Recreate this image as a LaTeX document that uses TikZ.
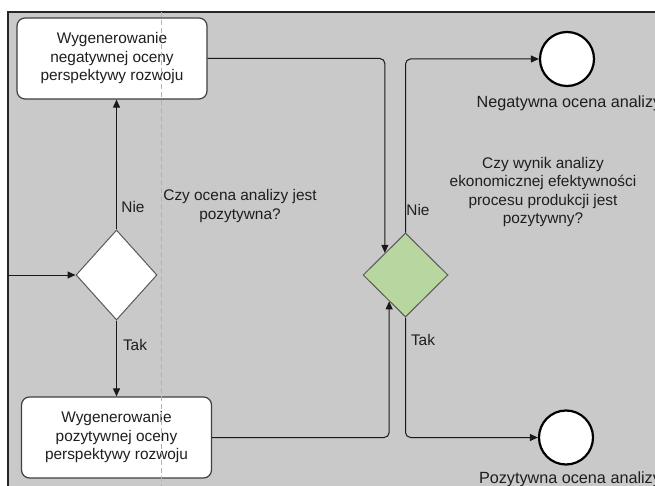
\documentclass[tikz,border=0pt]{standalone}
\usepackage{fontspec}
\setmainfont{Liberation Sans}
\usetikzlibrary{shapes.geometric,arrows.meta,calc}
\definecolor{bggray}{HTML}{C9C9C9}
\definecolor{gatgreen}{HTML}{B8D6A0}
\definecolor{txt}{HTML}{1E1E1E}
\tikzset{
  task/.style={rectangle, rounded corners=8pt, draw=black!75, line width=1.2pt, fill=white,
    minimum width=190pt, minimum height=81pt, align=center, inner sep=0pt, text=txt},
  gate/.style={diamond, draw=black!65, line width=1pt, inner sep=0pt},
  endev/.style={circle, draw=black, line width=2.2pt, fill=white, minimum size=54pt, inner sep=0pt},
  flow/.style={draw=black!90, line width=1pt, rounded corners=5pt, -{Triangle[length=8pt,width=7pt]}},
  lbl/.style={text=txt, align=center, inner sep=0pt},
}
\begin{document}
\begin{tikzpicture}[x=1pt,y=-1pt,font=\fontsize{15.4}{18.5}\selectfont]
\useasboundingbox (0,0) rectangle (655,486);
\fill[white] (0,0) rectangle (655,486);
\fill[bggray] (8,12) rectangle (660,490);
\draw[black!85, line width=1.5pt] (8,490) -- (8,12) -- (660,12);

\node[task] (topbox) at (112,58.5) {Wygenerowanie\\negatywnej oceny\\perspektywy rozwoju};
\node[task] (botbox) at (116.5,437.5) {Wygenerowanie\\pozytywnej oceny\\perspektywy rozwoju};
\node[gate, fill=white, minimum width=81pt, minimum height=90pt] (d1) at (116.5,275) {};
\node[gate, fill=gatgreen, minimum width=85pt, minimum height=84pt] (d2) at (405.5,275) {};
\node[endev] (c1) at (567,59) {};
\node[endev] (c2) at (566,437.5) {};

\coordinate (in) at (8,275);
\draw[flow] (in) -- (d1.west);
\draw[flow] (d1.north) -- (d1.north |- topbox.south);
\draw[flow] (d1.south) -- (d1.south |- botbox.north);
\draw[flow] (topbox.east) -| ($(d2.west)!0.52!(d2.north)$);
\draw[flow] (botbox.east) -| ($(d2.west)!0.62!(d2.south)$);
\draw[flow] (d2.north) |- (c1.west);
\draw[flow] (d2.south) |- (c2.west);

\node[lbl] (nie1) at (133,207) {Nie};
\node[lbl] (tak1) at (135,345) {Tak};
\node[lbl] (nie2) at (418,210) {Nie};
\node[lbl] (tak2) at (423,340) {Tak};
\node[lbl] (q1) at (240,206) {Czy ocena analizy jest\\pozytywna?};
\node[lbl] (q2) at (543,192) {Czy wynik analizy\\ekonomicznej efektywności\\procesu produkcji jest\\pozytywny?};
\node[lbl, font=\fontsize{16.2}{19}\selectfont] (l1) at (569,103) {Negatywna ocena analizy};
\node[lbl, font=\fontsize{16.2}{19}\selectfont] (l2) at (570,479) {Pozytywna ocena analizy};

\draw[black!30, line width=0.8pt, dash pattern=on 5pt off 3pt] (161,12) -- (161,486);
\end{tikzpicture}
\end{document}
